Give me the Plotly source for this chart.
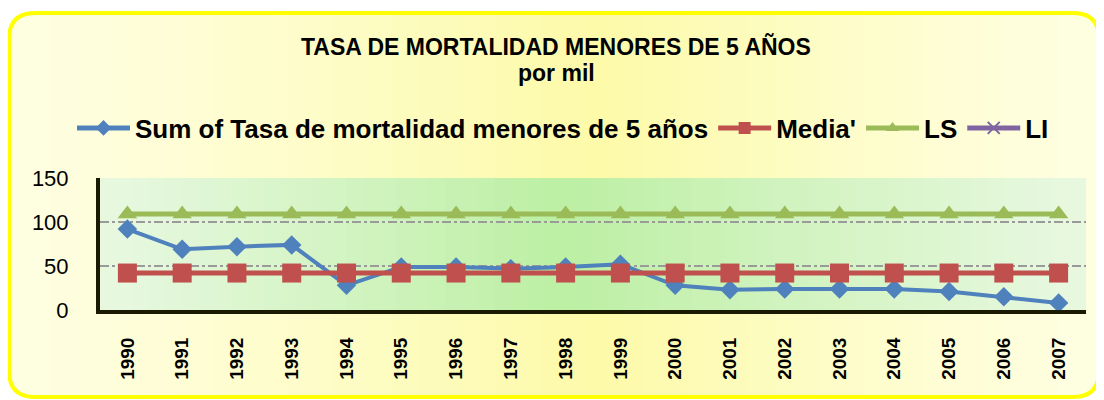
import plotly.graph_objects as go

years = [str(y) for y in range(1990, 2008)]
tasa = [92, 69, 72, 74, 28, 49, 49, 47, 49, 52, 28, 23, 24, 24, 24, 21, 15, 8]
media = [42] * 18
ls = [109] * 18
li = [-25] * 18

OFF = 8  # page body margin
SW, SH = 1104, 400  # screenshot size
PL, PR, PT, PB = 100, 1086, 178, 310  # plot area in screenshot pixels


def px(x):
    return (x - PL) / (PR - PL)


def py(y):
    return (PB - y) / (PB - PT)


def mix(c1, c2, t):
    a = [int(c1[i:i + 2], 16) for i in (1, 3, 5)]
    b = [int(c2[i:i + 2], 16) for i in (1, 3, 5)]
    return "#%02x%02x%02x" % tuple(round(a[i] + (b[i] - a[i]) * t) for i in range(3))


shapes = []
X0, Y0, X1, Y1, R = 9, 13, 1099, 397, 26


def rounded_path(x0, y0, x1, y1, r):
    return (f"M {px(x0 + r)},{py(y0)} L {px(x1 - r)},{py(y0)} "
            f"Q {px(x1)},{py(y0)} {px(x1)},{py(y0 + r)} "
            f"L {px(x1)},{py(y1 - r)} Q {px(x1)},{py(y1)} {px(x1 - r)},{py(y1)} "
            f"L {px(x0 + r)},{py(y1)} Q {px(x0)},{py(y1)} {px(x0)},{py(y1 - r)} "
            f"L {px(x0)},{py(y0 + r)} Q {px(x0)},{py(y0)} {px(x0 + r)},{py(y0)} Z")


edge_y = "#fefee0"
mid_y = "#fdfaa8"
shapes.append(dict(type="path", xref="paper", yref="paper", path=rounded_path(X0, Y0, X1, Y1, R),
                   fillcolor=edge_y, line=dict(width=0), layer="below"))
N = 70
sx0, sx1 = X0 + R, X1 - R
for i in range(N):
    a = sx0 + (sx1 - sx0) * i / N
    b = sx0 + (sx1 - sx0) * (i + 1) / N + 0.5
    c = (a + b) / 2
    center = 600
    t = 1 - abs(c - center) / (center - sx0 if c < center else sx1 - center)
    t = max(0, min(1, t)) ** 1.2
    shapes.append(dict(type="rect", xref="paper", yref="paper", x0=px(a), x1=px(b),
                       y0=py(Y1 - 2), y1=py(Y0 + 2), fillcolor=mix(edge_y, mid_y, t),
                       line=dict(width=0), layer="below"))
edge_g = "#e8f8e0"
mid_g = "#bcefa3"
M = 60
for i in range(M):
    a = i / M
    b = (i + 1) / M + 0.002
    c = (a + b) / 2
    t = 1 - abs(c - 0.47) / (0.47 if c < 0.47 else 0.53)
    t = max(0, min(1, t)) ** 1.1
    shapes.append(dict(type="rect", xref="paper", yref="paper", x0=a, x1=min(b, 1), y0=0, y1=1,
                       fillcolor=mix(edge_g, mid_g, t), line=dict(width=0), layer="below"))
shapes.append(dict(type="path", xref="paper", yref="paper", path=rounded_path(X0, Y0, X1, Y1, R),
                   fillcolor="rgba(0,0,0,0)", line=dict(color="#ffff00", width=4), layer="above"))

fig = go.Figure()
fig.add_trace(go.Scatter(x=years, y=tasa, name="Sum of Tasa de mortalidad menores de 5 años",
                         mode="lines+markers", line=dict(color="#4f81bd", width=4),
                         marker=dict(symbol="diamond", size=15, color="#4f81bd")))
fig.add_trace(go.Scatter(x=years, y=media, name="Media'", mode="lines+markers",
                         line=dict(color="#c0504d", width=5),
                         marker=dict(symbol="square", size=19, color="#c0504d")))
fig.add_trace(go.Scatter(x=years, y=ls, name="LS", mode="lines+markers",
                         line=dict(color="#9bbb59", width=5),
                         marker=dict(symbol="triangle-up", size=17, color="#9bbb59")))
fig.add_trace(go.Scatter(x=years, y=li, name="LI", mode="lines+markers",
                         line=dict(color="#8064a2", width=4),
                         marker=dict(symbol="x-thin", size=14, color="#8064a2",
                                     line=dict(color="#8064a2", width=1.5))))

fig.update_layout(
    width=SW - OFF, height=SH - OFF,
    margin=dict(l=PL - OFF, r=SW - PR, t=PT - OFF, b=SH - PB, pad=0),
    paper_bgcolor="white", plot_bgcolor="rgba(0,0,0,0)",
    shapes=shapes,
    font=dict(family="Arial, Liberation Sans, sans-serif", color="black"),
    showlegend=True,
    legend=dict(orientation="h", x=px(563), xanchor="center", y=py(128), yanchor="middle",
                font=dict(size=26, weight="bold"),
                bgcolor="rgba(0,0,0,0)", itemwidth=53, tracegroupgap=0, itemsizing="constant"),
    annotations=[
        dict(text="<b>TASA DE MORTALIDAD MENORES DE 5 AÑOS</b>", x=px(556), y=py(46),
             xref="paper", yref="paper", showarrow=False, xanchor="center", yanchor="middle",
             font=dict(size=23)),
        dict(text="<b>por mil</b>", x=px(556), y=py(73), xref="paper", yref="paper",
             showarrow=False, xanchor="center", yanchor="middle", font=dict(size=23)),
    ],
    xaxis=dict(type="category", range=[-0.5, 17.5], tickangle=-90, showgrid=False,
               showline=True, linecolor="#1a1a00", linewidth=4, ticks="",
               tickfont=dict(size=19, weight="bold"), ticklabelstandoff=16,
               zeroline=False, fixedrange=True),
    yaxis=dict(range=[0, 150], tickvals=[0, 50, 100, 150], showgrid=True,
               gridcolor="#9a9a9a", griddash="dashdot", gridwidth=1.5,
               showline=True, linecolor="#1a1a00", linewidth=4, ticks="",
               tickfont=dict(size=22), ticklabelstandoff=23, zeroline=False, fixedrange=True),
)

fig.write_html("out.html")
